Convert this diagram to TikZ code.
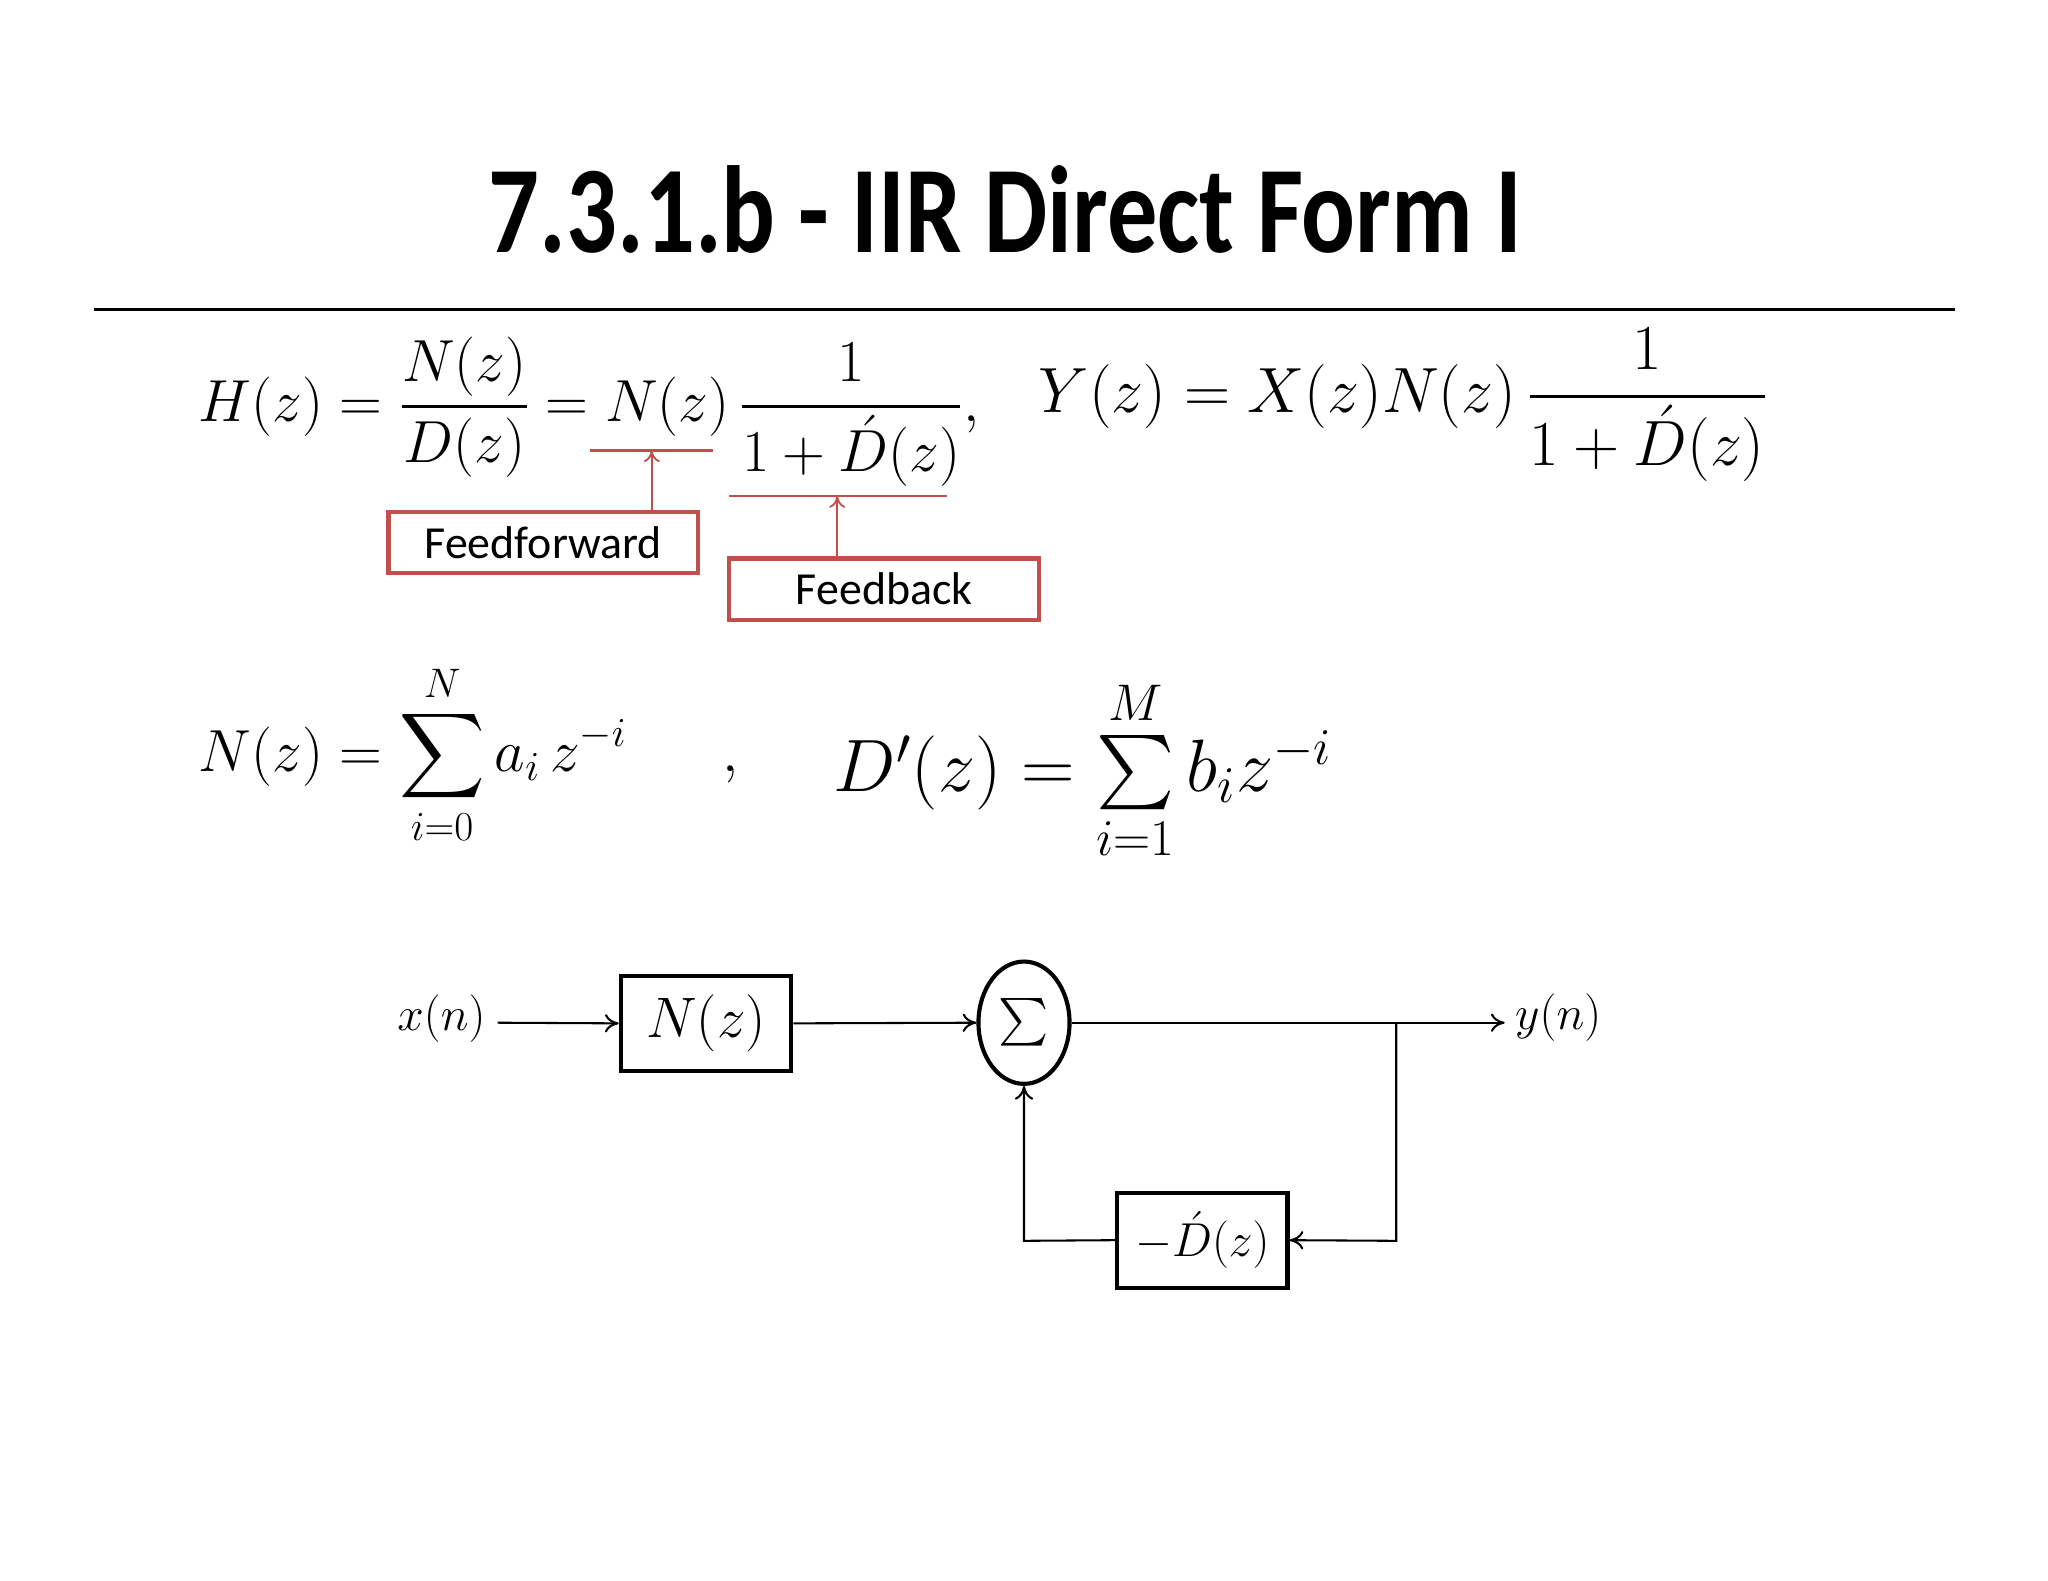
\documentclass[tikz,border=0pt]{standalone}
\usepackage{fontspec}
\usepackage{amsmath}
\newfontfamily\carl{Carlito}
\usetikzlibrary{arrows.meta,shapes.geometric}
\definecolor{redb}{RGB}{192,80,77}
\tikzset{redbox/.style={draw=redb,line width=1.8pt,minimum width=238*0.567pt,minimum height=47*0.567pt,inner sep=0pt,font=\carl\fontsize{20}{24}\selectfont},
redarr/.style={draw=redb,line width=0.8pt,-{To[length=5pt,width=7pt]}},
blk/.style={draw,line width=1.8pt,minimum width=131*0.567pt,minimum height=73*0.567pt,inner sep=0pt},
sig/.style={line width=0.9pt,-{To[length=6pt,width=8pt]}}}
\begin{document}
\begin{tikzpicture}[x=0.02cm,y=-0.02cm]
\useasboundingbox[fill=white] (0,0) rectangle (1568,1210);
\node (title) at (770,160) {\scalebox{0.81}[1]{\carl\bfseries\fontsize{54}{60}\selectfont 7.3.1.b - IIR Direct Form I}};
\draw[line width=1pt] (72,237) -- (1497,237);
\node[anchor=west,inner sep=0pt] (eqH) at (152,315) {\scalebox{1.04}{\fontsize{25}{30}\selectfont $\displaystyle H(z)=\frac{N(z)}{D(z)}=N(z)\,\frac{1}{1+\acute{D}(z)},$}};
\node[anchor=west,inner sep=0pt] (eqY) at (795,310) {\scalebox{1.12}{\fontsize{25}{30}\selectfont $\displaystyle Y(z)=X(z)N(z)\,\frac{1}{1+\acute{D}(z)}$}};
\coordinate (ffL) at (452,345); \coordinate (ffR) at (546,345); \coordinate (ffM) at (499,345);
\coordinate (fbL) at (558,380); \coordinate (fbR) at (725,380); \coordinate (fbM) at (641,380);
\draw[redb,line width=1pt] (ffL) -- (ffR);
\draw[redb,line width=1pt] (fbL) -- (fbR);
\node[redbox] (ff) at (416,415.5) {Feedforward};
\node[redbox] (fb) at (677,451) {Feedback};
\draw[redarr] (ff.north -| ffM) -- (ffM);
\draw[redarr] (fb.north -| fbM) -- (fbM);
\node[anchor=west,inner sep=0pt] (eqN) at (152,578) {\scalebox{1.04}{\fontsize{25}{30}\selectfont $\displaystyle N(z)=\sum_{i=0}^{N} a_i\, z^{-i}\quad\ \ ,$}};
\node[anchor=west,inner sep=0pt] (eqD) at (638,590) {\scalebox{1.3}{\fontsize{25}{30}\selectfont $D'(z)=\sum\limits_{i=1}^{M} b_i z^{-i}$}};
% block diagram
\node (x) at (338,780) {\fontsize{20}{24}\selectfont $x(n)$};
\node[blk] (N) at (540.5,783.5) {\fontsize{24}{28}\selectfont $N(z)$};
\node[draw,line width=1.8pt,ellipse,minimum width=70*0.567pt,minimum height=94*0.567pt,inner sep=0pt] (S) at (784,783) {\fontsize{22}{26}\selectfont $\sum$};
\node (y) at (1193,779) {\fontsize{20}{24}\selectfont $y(n)$};
\node[blk] (D) at (920.5,949.5) {\fontsize{22}{26}\selectfont $-\acute{D}(z)$};
\coordinate (br) at (1069,783);
\coordinate (br2) at (1069,950);
\coordinate (fl) at (784,950);
\draw[sig] (381,783) -- (N.west);
\draw[sig] (N.east) -- (S.west);
\draw[sig] (S.east) -- (1152,783);
\draw[sig] (br) -- (br2) -- (D.east);
\draw[sig] (D.west) -- (fl) -- (S.south);
\end{tikzpicture}
\end{document}
